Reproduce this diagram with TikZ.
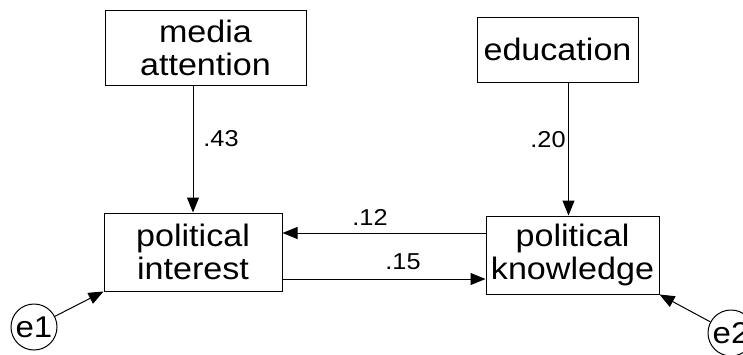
\documentclass[tikz,border=0pt]{standalone}
\usepackage{fontspec}
\setmainfont{Liberation Sans}
\newfontfamily\amosfont[FakeStretch=1.1]{Liberation Sans}
\usetikzlibrary{arrows.meta,calc,positioning}
\tikzset{
    varbox/.style={draw, line width=0.5pt, align=center, inner sep=0pt,
        font=\amosfont\fontsize{15.5}{16.5}\selectfont},
    errnode/.style={draw, circle, line width=0.5pt, inner sep=0pt,
        minimum size=23pt, font=\amosfont\fontsize{15}{16}\selectfont},
    effect/.style={line width=0.5pt, -{Triangle[length=7.5pt,width=6pt]}},
    coef/.style={font=\amosfont\fontsize{11.5}{13}\selectfont, inner sep=0pt}
}

\begin{document}
\begin{tikzpicture}[x=0.5pt, y=-0.5pt]
    \useasboundingbox (0,0) rectangle (743,354);

    \node[varbox, minimum width=100.5pt, minimum height=37.5pt] (media) at (205.5,47.5) {media\\attention};
    \node[varbox, minimum width=80.5pt, minimum height=32.5pt] (edu) at (557.5,49.5) {education};
    \node[varbox, minimum width=89pt, minimum height=39pt] (interest) at (193,252) {political\\interest};
    \node[varbox, minimum width=86.5pt, minimum height=39pt] (knowledge) at (572.5,255) {political\\knowledge};

    \node[errnode] (e1) at (34,327) {e1};
    \node[errnode] (e2) at (731,333) {e2};

    \coordinate (kTop) at ([xshift=-2pt]knowledge.north);
    \coordinate (kUp) at ([yshift=11pt]knowledge.west);
    \coordinate (kLow) at ([yshift=-12pt]knowledge.west);

    \draw[effect] (interest.north |- media.south) -- (interest.north);
    \draw[effect] (kTop |- edu.south) -- (kTop);
    \draw[effect] (kUp) -- (interest.east |- kUp);
    \draw[effect] (interest.east |- kLow) -- (kLow);
    \draw[effect] (e1) -- (interest.south west);
    \draw[effect] (e2) -- (knowledge.south east);

    \node[coef, anchor=west] (c43) at (203,139) {.43};
    \node[coef, anchor=east] (c20) at (566,140) {.20};
    \node[coef] (c12) at (370,217) {.12};
    \node[coef] (c15) at (403,262) {.15};
\end{tikzpicture}
\end{document}
